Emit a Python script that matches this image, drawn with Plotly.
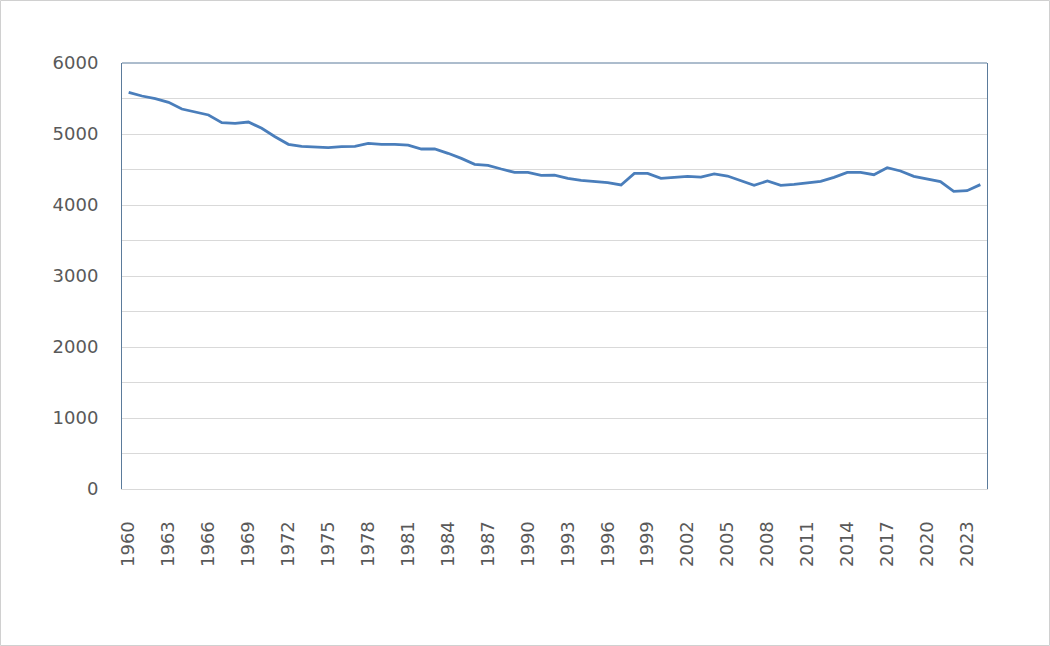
import plotly.graph_objects as go

years = list(range(1960, 2025))
values = [
    5587, 5535, 5497, 5446, 5352, 5314, 5268, 5160, 5150, 5169,
    5080, 4962, 4855, 4826, 4822, 4808, 4822, 4826, 4869, 4855,
    4855, 4843, 4789, 4789, 4728, 4657, 4573, 4559, 4507, 4460,
    4460, 4418, 4422, 4376, 4347, 4333, 4315, 4282, 4446, 4446,
    4376, 4390, 4404, 4394, 4437, 4408, 4342, 4277, 4338, 4277,
    4291, 4315, 4333, 4390, 4460, 4460, 4427, 4526, 4479, 4404,
    4362, 4329, 4193, 4202, 4287,
]
x_ticks = list(range(1960, 2025, 3))
y_ticks = [0, 1000, 2000, 3000, 4000, 5000, 6000]

W, H = 1050, 646
L, R, T, B = 122, 63, 63, 157
pw, ph = W - L - R, H - T - B

frame = "#5b7b9b"
grid = "#d9d9d9"
txt = "#595959"
font = dict(family="DejaVu Sans", size=18, color=txt)

fig = go.Figure()
fig.add_trace(go.Scatter(
    x=years, y=values, mode="lines",
    line=dict(color="#4A7EBB", width=2.8),
    hoverinfo="x+y", showlegend=False,
))

fig.update_layout(
    width=W, height=H,
    margin=dict(l=L, r=R, t=T, b=B, pad=0),
    paper_bgcolor="white", plot_bgcolor="white",
    font=font,
    xaxis=dict(
        range=[1959.5, 2024.5], tickmode="array", tickvals=x_ticks,
        ticktext=[str(v) for v in x_ticks], tickangle=-90,
        showgrid=False, zeroline=False, showline=True, linecolor=grid,
        linewidth=1, ticks="", ticklabelstandoff=24, tickfont=font,
    ),
    yaxis=dict(
        range=[0, 6000], tickmode="array", tickvals=y_ticks,
        showgrid=True, gridcolor=grid, gridwidth=1, zeroline=False,
        showline=True, linecolor=frame, linewidth=1, mirror=True,
        ticks="", ticklabelstandoff=19, tickfont=font,
        minor=dict(dtick=500, showgrid=True, gridcolor=grid, gridwidth=1),
    ),
    shapes=[
        dict(type="line", xref="paper", yref="paper", x0=0, x1=1, y0=1, y1=1,
             line=dict(color=frame, width=1)),
        dict(type="rect", xref="paper", yref="paper",
             x0=(0.5 - L) / pw, x1=(W - 0.5 - L) / pw,
             y0=-(H - 0.5 - T - ph) / ph, y1=(T - 0.5) / ph + 1,
             line=dict(color="#d0d0d0", width=1), layer="below"),
    ],
)

fig.write_html("out.html")
